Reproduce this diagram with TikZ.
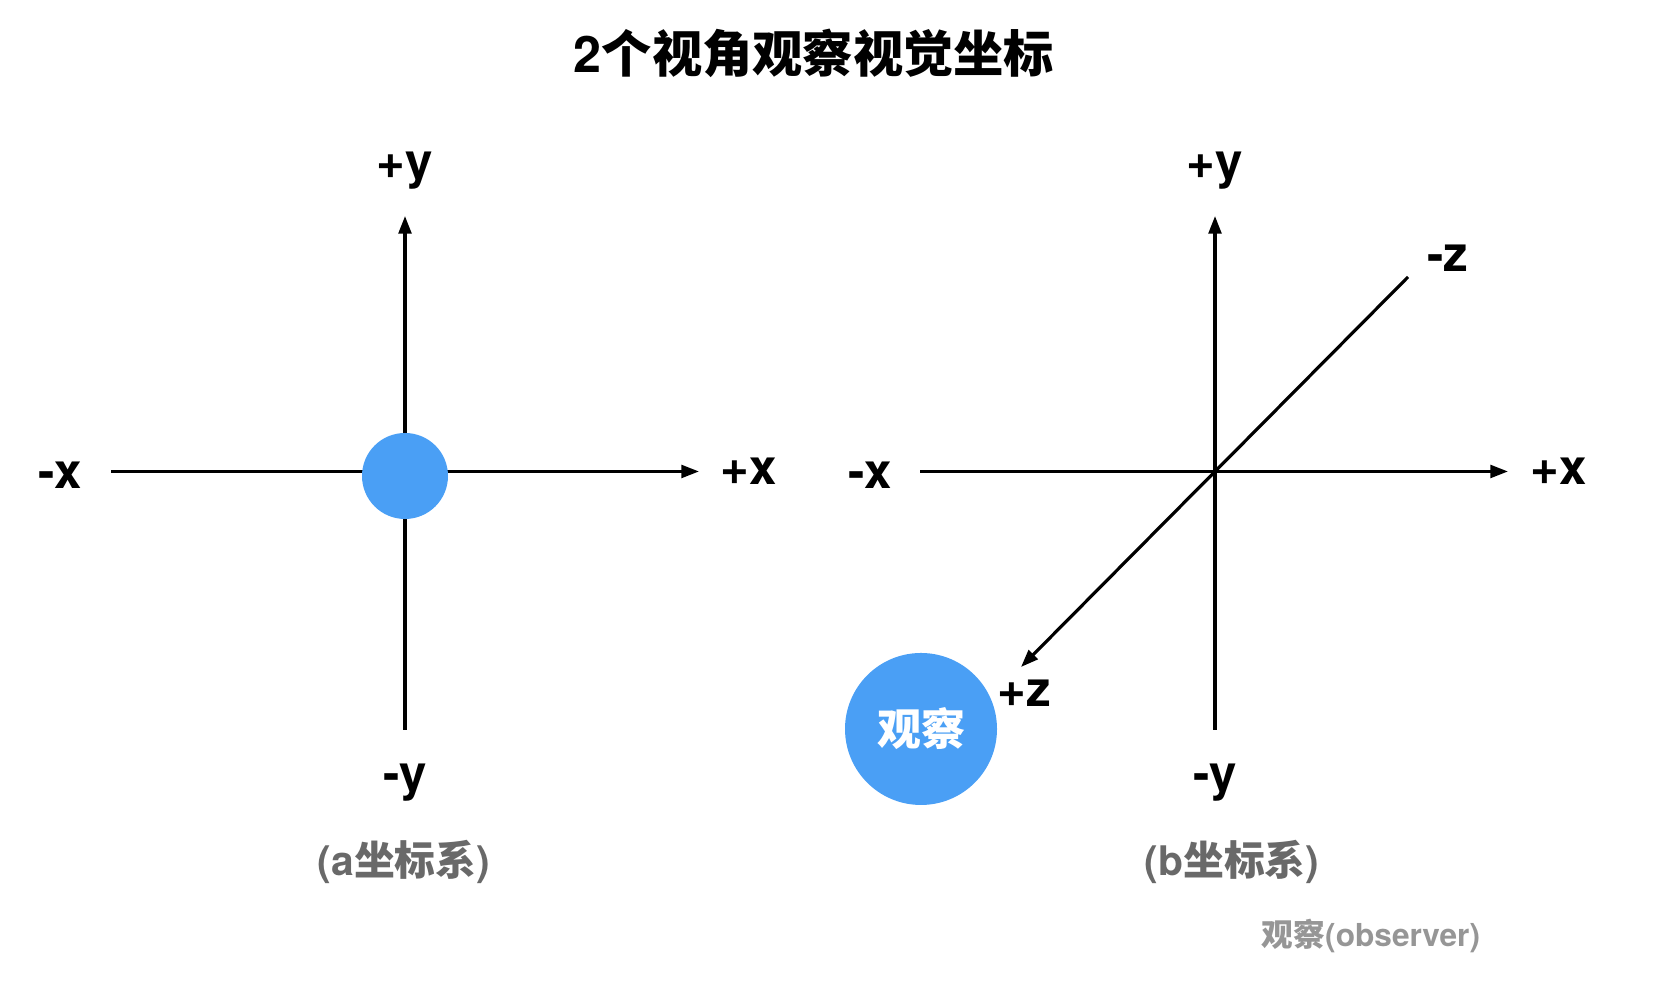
\documentclass[tikz,border=0pt]{standalone}
\usepackage{fontspec}
\setmainfont{TeX Gyre Heros}
\newfontfamily\cjk{Noto Sans CJK SC}
\definecolor{obsblue}{RGB}{74,159,245}
\definecolor{capgray}{RGB}{105,105,105}
\definecolor{notegray}{RGB}{150,150,150}
\usetikzlibrary{arrows.meta,positioning}

\begin{document}
\begin{tikzpicture}[
  axis/.style={line width=0.9pt,-{Triangle[length=5pt,width=3.6pt]}},
  axlabel/.style={font=\fontsize{14}{16}\selectfont\bfseries},
  caption/.style={capgray,font=\fontsize{11.6}{14}\selectfont\bfseries},
  dot/.style={circle,fill=obsblue,inner sep=0pt}
]
\useasboundingbox (0,0) rectangle (16.54,10);
\node[font=\fontsize{14.3}{18}\selectfont\bfseries] (title) at (8.14,9.47) {2{\cjk 个视角观察视觉坐标}};

% a coordinate system
\coordinate (aTop) at (4.05,7.84);
\coordinate (aBot) at (4.05,2.70);
\coordinate (aLeft) at (1.11,5.285);
\coordinate (aRight) at (6.99,5.285);
\draw[axis] (aBot) -- (aTop);
\draw[axis] (aLeft) -- (aRight);
\node[dot,minimum size=0.86cm] (aDot) at (4.05,5.24) {};
\node[axlabel] (aPy) at (4.05,8.29) {+y};
\node[axlabel] (aMy) at (4.05,2.17) {-y};
\node[axlabel] (aMx) at (0.60,5.25) {-x};
\node[axlabel] (aPx) at (7.49,5.29) {+x};
\node[caption] (aCap) at (4.04,1.38) {(a{\cjk 坐标系})};

% b coordinate system
\coordinate (bTop) at (12.15,7.84);
\coordinate (bBot) at (12.15,2.70);
\coordinate (bLeft) at (9.20,5.285);
\coordinate (bRight) at (15.08,5.285);
\coordinate (bZneg) at (14.08,7.23);
\coordinate (bZpos) at (10.21,3.33);
\draw[axis] (bBot) -- (bTop);
\draw[axis] (bLeft) -- (bRight);
\draw[axis] (bZneg) -- (bZpos);
\node[axlabel] (bPy) at (12.15,8.29) {+y};
\node[axlabel] (bMy) at (12.15,2.17) {-y};
\node[axlabel] (bMx) at (8.70,5.25) {-x};
\node[axlabel] (bPx) at (15.59,5.29) {+x};
\node[axlabel] (bMz) at (14.48,7.42) {-z};
\node[axlabel] (bPz) at (10.24,3.07) {+z};
\node[dot,minimum size=1.52cm,text=white,font=\fontsize{12.5}{14}\selectfont\bfseries\cjk] (observer) at (9.21,2.71) {观察};
\node[caption] (bCap) at (12.32,1.38) {(b{\cjk 坐标系})};

\node[notegray,font=\fontsize{9}{11}\selectfont\bfseries] (note) at (13.71,0.64) {{\cjk 观察}(observer)};
\end{tikzpicture}
\end{document}
